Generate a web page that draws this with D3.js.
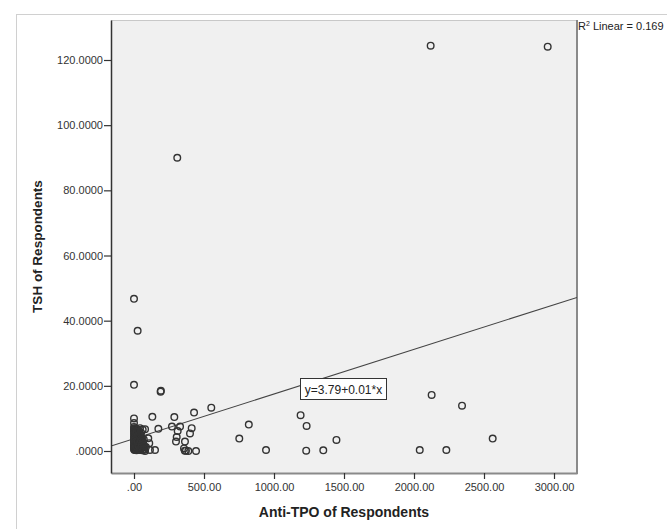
<!DOCTYPE html>
<html>
<head>
<meta charset="utf-8">
<script src="https://cdn.jsdelivr.net/npm/d3@7"></script>
<style>
  html, body { margin: 0; padding: 0; background: #ffffff; }
  svg { display: block; }
  text { font-family: "Liberation Sans", Arial, sans-serif; }
</style>
</head>
<body>
<svg id="chart" width="667" height="529"></svg>
<script>
// ---- Data ----
const xTicks = [0, 500, 1000, 1500, 2000, 2500, 3000];
const xTickLabels = [".00", "500.00", "1000.00", "1500.00", "2000.00", "2500.00", "3000.00"];
const yTicks = [0, 20, 40, 60, 80, 100, 120];
const yTickLabels = [".0000", "20.0000", "40.0000", "60.0000", "80.0000", "100.0000", "120.0000"];
const xTitle = "Anti-TPO of Respondents";
const yTitle = "TSH of Respondents";
const fitIntercept = 3.79;
const fitSlope = 0.0137;
const fitLabel = "y=3.79+0.01*x";
const r2Label = "Linear = 0.169";

// anti-TPO values
const antiTPO = [
  2119, 2955, 309, 0, 26, 0, 190, 192, 552, 429, 131, 288, 0, 820, 271, 329, 412, 174, 312, 400,
  752, 305, 2126, 1190, 1233, 1446, 2343, 2562, 943, 1230, 1352, 2041, 2231, 150, 300, 364, 357,
  371, 388, 443, 363, 43, 79,
  0, 0, 0, 0, 0, 0, 0, 0, 0, 0, 0, 0,
  3, 4, 5, 6, 5, 4, 7, 6, 3,
  10, 12, 11, 13, 10, 12, 14, 11, 9,
  18, 20, 17, 21, 19, 22, 18, 20, 23,
  28, 30, 27, 31, 29, 32, 26, 33,
  38, 40, 37, 42, 39, 41, 44,
  48, 50, 52, 47, 55, 51,
  58, 62, 60, 65, 62, 70,
  75, 79, 85, 102, 109, 114,
  2, 8, 15, 24, 35, 45, 16, 25, 34, 46, 7, 14, 24, 36, 8, 16, 27, 2, 9, 19, 30, 53, 57, 66,
  1, 6, 13, 22, 33, 43, 4, 15, 26, 37, 49, 56, 68, 72
];
// TSH values
const tsh = [
  124.4, 124.1, 90.0, 46.7, 36.9, 20.3, 18.2, 18.5, 13.3, 11.8, 10.5, 10.4, 10.0, 8.1, 7.5, 7.5, 7.0, 6.8, 6.1, 5.4,
  3.8, 4.3, 17.2, 11.0, 7.7, 3.4, 13.9, 3.8, 0.3, 0.1, 0.2, 0.3, 0.3, 0.3, 2.9, 2.9, 0.8,
  0.1, 0.0, 0.0, 0.1, 7.0, 6.7,
  0.5, 1.2, 1.8, 2.5, 3.1, 3.8, 4.4, 5.2, 5.9, 6.6, 7.4, 8.6,
  0.3, 1.5, 2.2, 3.0, 4.1, 4.9, 5.6, 6.3, 7.0,
  0.4, 1.1, 1.9, 2.7, 3.5, 4.3, 5.0, 5.8, 6.9,
  0.2, 0.9, 1.6, 2.4, 3.2, 4.0, 4.7, 5.5, 6.2,
  0.5, 1.3, 2.0, 2.9, 3.6, 4.5, 5.3, 6.0,
  0.3, 1.0, 1.8, 2.6, 3.4, 4.2, 5.1,
  0.6, 1.5, 2.3, 3.1, 4.0, 5.6,
  0.2, 1.1, 2.0, 2.8, 6.6, 3.5,
  0.4, 0.0, 1.2, 3.9, 2.4, 0.3,
  0.8, 0.7, 0.6, 0.8, 0.9, 0.4, 2.3, 2.1, 2.2, 1.9, 3.9, 3.7, 3.6, 3.8, 5.4, 5.2, 5.1, 6.2, 6.0, 5.9, 6.5, 0.9, 3.3, 1.7,
  1.4, 1.3, 1.5, 1.2, 1.6, 2.9, 3.3, 2.9, 3.0, 4.9, 3.0, 1.9, 0.5, 1.6
];

// ---- Layout ----
const svg = d3.select("#chart");
const plot = { left: 111, right: 577, top: 20, bottom: 473 };

const x = d3.scaleLinear().domain([0, 3000]).range([134, 554]);
x.domain([x.invert(plot.left), x.invert(plot.right)]).range([plot.left, plot.right]);
const y = d3.scaleLinear().domain([0, 120]).range([451, 60]);
y.domain([y.invert(plot.bottom), y.invert(plot.top)]).range([plot.bottom, plot.top]);

// outer frame
svg.append("rect").attr("x", 16.5).attr("y", 14.5).attr("width", 700).attr("height", 600)
  .attr("fill", "none").attr("stroke", "#d0d0d0").attr("stroke-width", 1);

// plot background
svg.append("rect").attr("x", plot.left).attr("y", plot.top)
  .attr("width", plot.right - plot.left).attr("height", plot.bottom - plot.top)
  .attr("fill", "#f0f0f0");

// borders
svg.append("line").attr("x1", plot.left).attr("x2", plot.right).attr("y1", plot.top + 0.5).attr("y2", plot.top + 0.5)
  .attr("stroke", "#c8c8c8").attr("stroke-width", 1);
svg.append("line").attr("x1", plot.right).attr("x2", plot.right).attr("y1", plot.top).attr("y2", plot.bottom + 1)
  .attr("stroke", "#8a8a8a").attr("stroke-width", 2);

svg.append("clipPath").attr("id", "clip").append("rect")
  .attr("x", plot.left).attr("y", plot.top).attr("width", plot.right - plot.left).attr("height", plot.bottom - plot.top);

// regression line
const g = svg.append("g").attr("clip-path", "url(#clip)");
const [xd0, xd1] = x.domain();
g.append("line")
  .attr("x1", x(xd0)).attr("y1", y(fitIntercept + fitSlope * xd0))
  .attr("x2", x(xd1)).attr("y2", y(fitIntercept + fitSlope * xd1))
  .attr("stroke", "#444").attr("stroke-width", 1.1);

// points
const pts = antiTPO.map((v, i) => ({ a: v, t: tsh[i] }));
g.selectAll("circle.pt").data(pts).enter().append("circle")
  .attr("class", "pt")
  .attr("cx", d => x(d.a)).attr("cy", d => y(d.t)).attr("r", 3.3)
  .attr("fill", "none").attr("stroke", "#333").attr("stroke-width", 1.4);

// equation box
const eq = svg.append("g");
eq.append("rect").attr("x", 300.5).attr("y", 378.5).attr("width", 86).attr("height", 21)
  .attr("fill", "#ffffff").attr("stroke", "#333").attr("stroke-width", 1);
eq.append("text").attr("x", 343.5).attr("y", 393.5)
  .attr("text-anchor", "middle").attr("font-size", 12).attr("fill", "#222").text(fitLabel);

// axes
const xAxis = d3.axisBottom(x).tickValues(xTicks).tickSize(6).tickSizeOuter(0)
  .tickFormat((d, i) => xTickLabels[i]);
const gx = svg.append("g").attr("transform", `translate(0,${plot.bottom})`).call(xAxis);
gx.select(".domain").attr("stroke", "#8a8a8a").attr("stroke-width", 2);
gx.selectAll(".tick line").attr("stroke", "#333").attr("stroke-width", 1.2);
gx.selectAll(".tick text").attr("font-size", 11).attr("fill", "#333").attr("dy", "0.85em")
  .attr("font-family", "Liberation Sans, Arial, sans-serif");

const yAxis = d3.axisLeft(y).tickValues(yTicks).tickSize(7).tickSizeOuter(0)
  .tickFormat((d, i) => yTickLabels[i]);
const gy = svg.append("g").attr("transform", `translate(${plot.left},0)`).call(yAxis);
gy.select(".domain").attr("stroke", "#333").attr("stroke-width", 1.5);
gy.selectAll(".tick line").attr("stroke", "#333").attr("stroke-width", 1.2);
gy.selectAll(".tick text").attr("font-size", 11).attr("fill", "#333").attr("x", -8)
  .attr("font-family", "Liberation Sans, Arial, sans-serif");

// titles
svg.append("text").attr("x", (plot.left + plot.right) / 2).attr("y", 517)
  .attr("text-anchor", "middle").attr("font-size", 14).attr("font-weight", "bold").attr("fill", "#222")
  .text(xTitle);
svg.append("text")
  .attr("transform", `translate(42,${(plot.top + plot.bottom) / 2}) rotate(-90)`)
  .attr("text-anchor", "middle").attr("font-size", 13.5).attr("font-weight", "bold").attr("fill", "#222")
  .text(yTitle);

// R² label
const r2 = svg.append("text").attr("x", 578).attr("y", 30).attr("font-size", 11).attr("fill", "#222");
r2.append("tspan").text("R");
r2.append("tspan").attr("font-size", 7).attr("dy", -4).text("2");
r2.append("tspan").attr("dy", 4).text(" " + r2Label);
</script>
</body>
</html>
